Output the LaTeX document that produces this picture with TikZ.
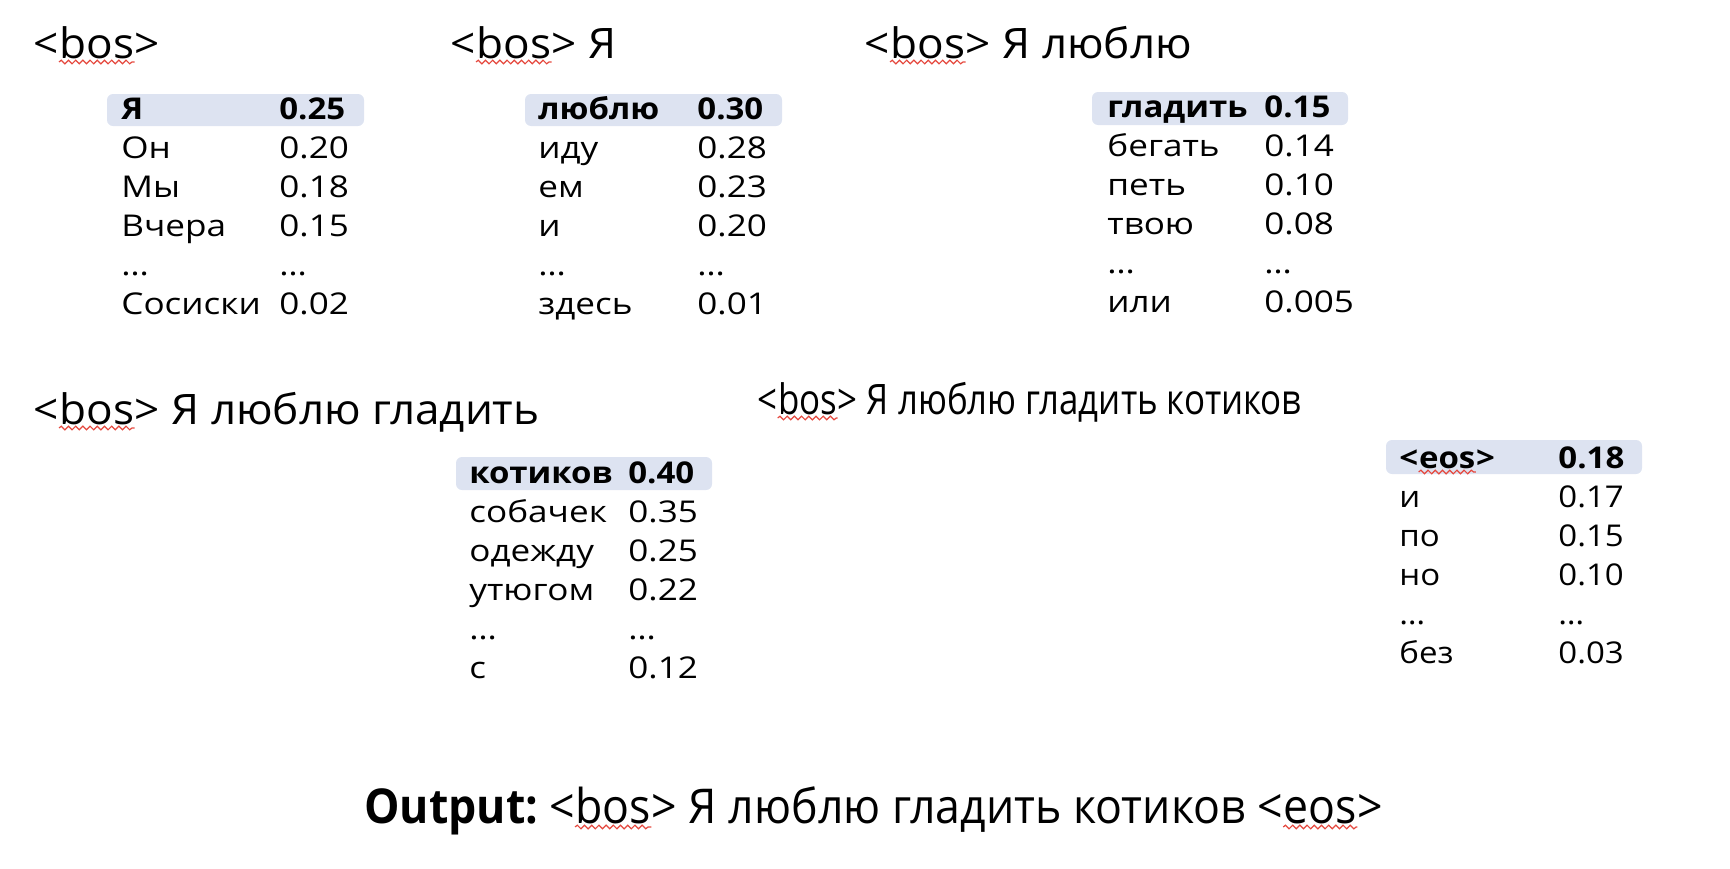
\documentclass[tikz,border=0pt]{standalone}
\usepackage{fontspec}
\setmainfont{Open Sans}
\newfontfamily\headfont[FakeStretch=1.05]{Open Sans}
\newfontfamily\longheadfont[FakeStretch=0.83]{Open Sans}
\newfontfamily\cellfont[FakeStretch=1.17]{Open Sans}
\newfontfamily\bestfont[FakeStretch=1.1]{Open Sans}
\newfontfamily\lastcellfont[FakeStretch=1.1]{Open Sans}
\newfontfamily\outfont[FakeStretch=0.93]{Open Sans}
\usetikzlibrary{decorations.pathmorphing}
\definecolor{hlblue}{HTML}{DDE3F1}
\definecolor{spell}{HTML}{E5483E}

\begin{document}
\begin{tikzpicture}[x=0.5pt,y=-0.5pt,
  head/.style={anchor=base west,inner sep=0pt,font=\fontsize{21}{25}\headfont},
  longhead/.style={head,font=\fontsize{21}{25}\longheadfont},
  cell/.style={anchor=base west,inner sep=0pt,font=\fontsize{15}{18}\cellfont},
  best/.style={cell,font=\fontsize{15}{18}\bestfont\bfseries},
  lastcell/.style={cell,font=\fontsize{15}{18}\lastcellfont},
  lastbest/.style={cell,font=\fontsize{15}{18}\lastcellfont\bfseries},
  final/.style={anchor=base west,inner sep=0pt,font=\fontsize{24}{28}\outfont},
  hl/.style={fill=hlblue,rounded corners=3pt},
  wave/.style={spell,line width=0.6pt,decorate,
    decoration={snake,amplitude=0.9pt,segment length=3.6pt}}]
  \useasboundingbox (0,0) rectangle (1730,868);

  % step 1
  \node[head] (h1a) at (33,58) {<};
  \node[head] (h1b) at (h1a.base east) {bos};
  \node[head] (h1c) at (h1b.base east) {>};
  \draw[wave] ([yshift=-2pt]h1b.base west) -- ([yshift=-2pt]h1b.base east);
  \fill[hl] (107,94) rectangle (364,126);
  \node[best] (s1w0) at (121,119) {Я};
  \node[best] (s1p0) at (279,119) {0.25};
  \foreach \w/\p [count=\i] in {Он/0.20,Мы/0.18,Вчера/0.15,…/…,Сосиски/0.02}{
    \node[cell] (s1w\i) at (121,119+39*\i) {\w};
    \node[cell] (s1p\i) at (279,119+39*\i) {\p};
  }

  % step 2
  \node[head] (h2a) at (450,58) {<};
  \node[head] (h2b) at (h2a.base east) {bos};
  \node[head] (h2c) at (h2b.base east) {> Я};
  \draw[wave] ([yshift=-2pt]h2b.base west) -- ([yshift=-2pt]h2b.base east);
  \fill[hl] (525,94) rectangle (782,126);
  \node[best] (s2w0) at (538,119) {люблю};
  \node[best] (s2p0) at (697,119) {0.30};
  \foreach \w/\p [count=\i] in {иду/0.28,ем/0.23,и/0.20,…/…,здесь/0.01}{
    \node[cell] (s2w\i) at (538,119+39*\i) {\w};
    \node[cell] (s2p\i) at (697,119+39*\i) {\p};
  }

  % step 3
  \node[head] (h3a) at (864,58) {<};
  \node[head] (h3b) at (h3a.base east) {bos};
  \node[head] (h3c) at (h3b.base east) {> Я люблю};
  \draw[wave] ([yshift=-2pt]h3b.base west) -- ([yshift=-2pt]h3b.base east);
  \fill[hl] (1092,92) rectangle (1348,125);
  \node[best] (s3w0) at (1107,117) {гладить};
  \node[best] (s3p0) at (1264,117) {0.15};
  \foreach \w/\p [count=\i] in {бегать/0.14,петь/0.10,твою/0.08,…/…,или/0.005}{
    \node[cell] (s3w\i) at (1107,117+39*\i) {\w};
    \node[cell] (s3p\i) at (1264,117+39*\i) {\p};
  }

  % step 4
  \node[head] (h4a) at (33,424) {<};
  \node[head] (h4b) at (h4a.base east) {bos};
  \node[head] (h4c) at (h4b.base east) {> Я люблю гладить};
  \draw[wave] ([yshift=-2pt]h4b.base west) -- ([yshift=-2pt]h4b.base east);
  \fill[hl] (456,457) rectangle (712,490);
  \node[best] (s4w0) at (469,483) {котиков};
  \node[best] (s4p0) at (628,483) {0.40};
  \foreach \w/\p [count=\i] in {собачек/0.35,одежду/0.25,утюгом/0.22,…/…,с/0.12}{
    \node[cell] (s4w\i) at (469,483+39*\i) {\w};
    \node[cell] (s4p\i) at (628,483+39*\i) {\p};
  }

  % step 5
  \node[longhead] (h5a) at (757,414) {<};
  \node[longhead] (h5b) at (h5a.base east) {bos};
  \node[longhead] (h5c) at (h5b.base east) {> Я люблю гладить котиков};
  \draw[wave] ([yshift=-2pt]h5b.base west) -- ([yshift=-2pt]h5b.base east);
  \fill[hl] (1386,440) rectangle (1642,474);
  \node[lastbest] (s5w0a) at (1399,468) {<};
  \node[lastbest] (s5w0b) at (s5w0a.base east) {eos};
  \node[lastbest] (s5w0c) at (s5w0b.base east) {>};
  \draw[wave] ([yshift=-2pt]s5w0b.base west) -- ([yshift=-2pt]s5w0b.base east);
  \node[lastbest] (s5p0) at (1558,468) {0.18};
  \foreach \w/\p [count=\i] in {и/0.17,по/0.15,но/0.10,…/…,без/0.03}{
    \node[lastcell] (s5w\i) at (1399,468+39*\i) {\w};
    \node[lastcell] (s5p\i) at (1558,468+39*\i) {\p};
  }

  % result
  \node[final,font=\fontsize{24}{28}\outfont\bfseries] (outa) at (364,823) {Output:};
  \node[final] (outb) at ([xshift=5pt]outa.base east) {<};
  \node[final] (outc) at (outb.base east) {bos};
  \node[final] (outd) at (outc.base east) {> Я люблю гладить котиков <};
  \node[final] (oute) at (outd.base east) {eos};
  \node[final] (outf) at (oute.base east) {>};
  \draw[wave] ([yshift=-2pt]outc.base west) -- ([yshift=-2pt]outc.base east);
  \draw[wave] ([yshift=-2pt]oute.base west) -- ([yshift=-2pt]oute.base east);
\end{tikzpicture}
\end{document}
